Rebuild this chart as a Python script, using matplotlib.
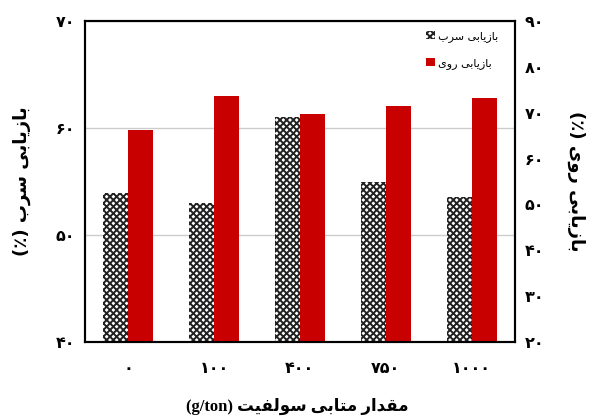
import numpy as np
import matplotlib
matplotlib.use('Agg')
import matplotlib.pyplot as plt
from matplotlib.patches import Patch

# data
categories = ['۰', '۱۰۰', '۴۰۰', '۷۵۰', '۱۰۰۰']
lead_recovery = [53.9, 53.0, 61.0, 54.9, 53.5]
zinc_recovery = [66.2, 73.6, 69.7, 71.5, 73.1]
left_ticks = [40, 50, 60, 70]
right_ticks = [20, 30, 40, 50, 60, 70, 80, 90]

# Persian presentation forms: (isolated, final, initial, medial)
FORMS = {
    'ا': ('\uFE8D', '\uFE8E'),
    'ب': ('\uFE8F', '\uFE90', '\uFE91', '\uFE92'),
    'ت': ('\uFE95', '\uFE96', '\uFE97', '\uFE98'),
    'د': ('\uFEA9', '\uFEAA'),
    'ر': ('\uFEAD', '\uFEAE'),
    'ز': ('\uFEAF', '\uFEB0'),
    'س': ('\uFEB1', '\uFEB2', '\uFEB3', '\uFEB4'),
    'ف': ('\uFED1', '\uFED2', '\uFED3', '\uFED4'),
    'ق': ('\uFED5', '\uFED6', '\uFED7', '\uFED8'),
    'ل': ('\uFEDD', '\uFEDE', '\uFEDF', '\uFEE0'),
    'م': ('\uFEE1', '\uFEE2', '\uFEE3', '\uFEE4'),
    'و': ('\uFEED', '\uFEEE'),
    'ی': ('\uFBFC', '\uFBFD', '\uFBFE', '\uFBFF'),
}
FA_DIGITS = str.maketrans('0123456789', '۰۱۲۳۴۵۶۷۸۹')


def fa(text):
    # join letters and return them in visual (left to right) order
    out = []
    for i, ch in enumerate(text):
        if ch not in FORMS:
            out.append(ch)
            continue
        prev = text[i - 1] if i > 0 else ''
        nxt = text[i + 1] if i + 1 < len(text) else ''
        join_prev = prev in FORMS and len(FORMS[prev]) == 4
        join_next = len(FORMS[ch]) == 4 and nxt in FORMS
        f = FORMS[ch]
        if join_prev and join_next:
            out.append(f[3])
        elif join_prev:
            out.append(f[1])
        elif join_next:
            out.append(f[2])
        else:
            out.append(f[0])
    return ''.join(out[::-1])


plt.rcParams['font.family'] = ['DejaVu Sans']
red = '#c80000'
plt.rcParams['hatch.linewidth'] = 1.4

fig = plt.figure(figsize=(5.95, 4.19), dpi=100)
ax = fig.add_axes([0.143, 0.184, 0.722, 0.766])
ax2 = ax.twinx()

x = np.arange(len(categories))
w = 0.29
ax.bar(x - w / 2, lead_recovery, w, color='white', edgecolor='#222222',
       hatch='xxxxx', linewidth=0, zorder=2)
ax2.bar(x + w / 2, zinc_recovery, w, color=red, linewidth=0, zorder=2)

ax.set_xlim(-0.5, len(categories) - 0.5)
ax.set_ylim(40, 70)
ax2.set_ylim(20, 90)
ax.set_yticks(left_ticks)
ax.set_yticklabels([str(v).translate(FA_DIGITS) for v in left_ticks])
ax2.set_yticks(right_ticks)
ax2.set_yticklabels([str(v).translate(FA_DIGITS) for v in right_ticks])
ax.set_xticks(x)
ax.set_xticklabels(categories)

ax.yaxis.grid(True, color='#cccccc', linewidth=1, zorder=0)
ax.set_axisbelow(True)

for a in (ax, ax2):
    a.tick_params(length=0, labelsize=11.5, pad=7)
    for lab in a.get_xticklabels() + a.get_yticklabels():
        lab.set_fontweight('bold')
    for s in a.spines.values():
        s.set_linewidth(1.5)
ax.tick_params(axis='x', pad=14)

ax.set_ylabel('(٪) ' + fa('بازیابی سرب'), fontsize=13, fontweight='bold', labelpad=18)
ax2.set_ylabel('(٪) ' + fa('بازیابی روی'), fontsize=13, fontweight='bold',
               rotation=270, labelpad=30)
fig.text(0.5, 0.02, '(g/ton) ' + fa('مقدار متابی سولفیت'), ha='center',
         fontsize=12, fontweight='bold', family=['Liberation Serif', 'DejaVu Sans'])

handles = [Patch(facecolor='white', edgecolor='#222222', hatch='xxxxx', linewidth=0),
           Patch(facecolor=red, linewidth=0)]
ax2.legend(handles, [fa('بازیابی سرب'), fa('بازیابی روی')], loc='upper right',
           frameon=False, markerfirst=True, fontsize=8, handlelength=0.8,
           handleheight=0.8, handletextpad=0.3, labelspacing=1.4,
           bbox_to_anchor=(0.985, 1.0))

fig.savefig('out.png', dpi=100)
